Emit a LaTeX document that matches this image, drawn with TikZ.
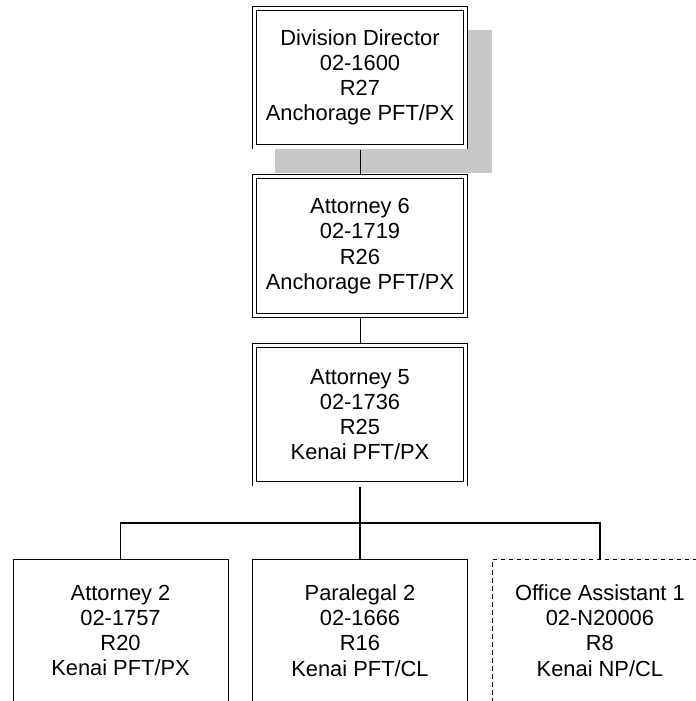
\documentclass[tikz,border=0pt]{standalone}
\usepackage{fontspec}
\setmainfont{Liberation Sans}
\usepackage{tikz}
\usetikzlibrary{positioning,calc,shadows}

\begin{document}
\begin{tikzpicture}[
      x=0.75pt, y=-0.75pt,
      node distance=18.4pt and 18pt,
      mgr/.style={draw, double, double distance=2.5pt, line width=0.6pt,
                  fill=white, rectangle, minimum width=158pt, minimum height=104pt,
                  outer sep=2pt, align=center,
                  font=\fontsize{16.4pt}{18.9pt}\selectfont},
      staff/.style={draw, line width=0.75pt, fill=white, rectangle,
                    minimum width=161.25pt, minimum height=107.25pt, align=center,
                    font=\fontsize{16.4pt}{18.9pt}\selectfont},
      vacant/.style={staff, dash pattern=on 3.5pt off 2.5pt, line width=0.6pt},
      link/.style={line width=0.75pt},
      trunk/.style={line width=1.6pt},
      branch/.style={line width=1.4pt},
    ]
    \useasboundingbox (0,0) rectangle (696,701);

    % ---- Management chain ----
    \node[mgr, drop shadow={shadow xshift=17.25pt, shadow yshift=-17.6pt,
          shadow scale=1.03, fill=black!22, opacity=1}] (dir) at (360,77.5)
          {Division Director\\02-1600\\R27\\Anchorage PFT/PX};
    \node[mgr, below=of dir] (att6) {Attorney 6\\02-1719\\R26\\Anchorage PFT/PX};
    \node[mgr, below=of att6] (att5) {Attorney 5\\02-1736\\R25\\Kenai PFT/PX};

    \draw[link] (dir) -- (att6);
    \draw[link] (att6) -- (att5);

    % ---- Staff ----
    \node[staff, below=54pt of att5] (para) {Paralegal 2\\02-1666\\R16\\Kenai PFT/CL};
    \node[staff, left=17.6pt of para] (att2) {Attorney 2\\02-1757\\R20\\Kenai PFT/PX};
    \node[vacant, right=of para] (oa1) {Office Assistant 1\\02-N20006\\R8\\Kenai NP/CL};

    % branch connectors
    \coordinate (bar) at ($(att5.south)!0.5!(para.north)$);
    \draw[trunk] (att5.south) -- (bar);
    \draw[branch] (att2.north) |- (bar) -| (oa1.north);
    \draw[branch] (bar) -- (para.north);
  \end{tikzpicture}
\end{document}
